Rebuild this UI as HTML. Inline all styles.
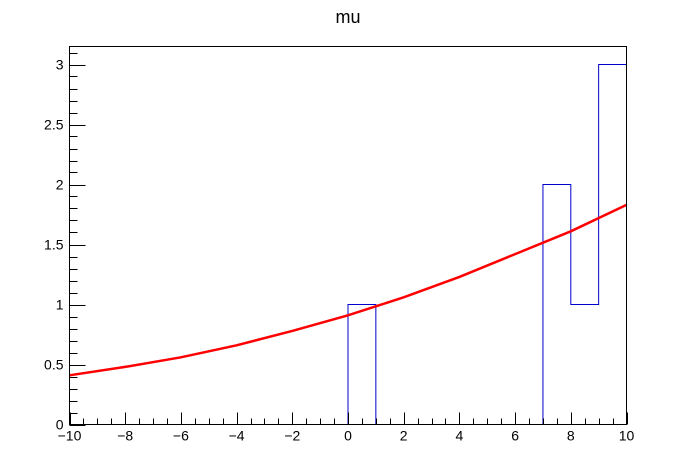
<!DOCTYPE html>
<html><head><meta charset="utf-8"><style>body{margin:0;background:#fff}svg{display:block}text{font-family:"Liberation Sans",sans-serif}</style></head>
<body>
<svg id="c" width="696" height="472">
<text x="348" y="23" text-anchor="middle" font-size="18">mu</text>
</svg>
<script>
const binEdges=[-10,-9,-8,-7,-6,-5,-4,-3,-2,-1,0,1,2,3,4,5,6,7,8,9,10];
const binCounts=[0,0,0,0,0,0,0,0,0,0,1,0,0,0,0,0,0,2,1,3];
const fitX=[-10,-8,-6,-4,-2,0,2,4,6,8,10];
const fitY=[0.41,0.48,0.56,0.66,0.78,0.91,1.06,1.23,1.42,1.61,1.83];
const xTicks=[-10,-8,-6,-4,-2,0,2,4,6,8,10];
const yTicks=[0,0.5,1,1.5,2,2.5,3];
const yTickLabels=["0","0.5","1","1.5","2","2.5","3"];
const L=69.5,R=626.5,T=46.5,B=424.5,xmin=-10,xmax=10,ymin=0,ymax=3.15;
const sx=v=>L+(v-xmin)/(xmax-xmin)*(R-L);
const sy=v=>B-(v-ymin)/(ymax-ymin)*(B-T);
const svg=document.getElementById('c');const NS='http://www.w3.org/2000/svg';
function mk(t,a,p){const e=document.createElementNS(NS,t);for(const k in a)e.setAttribute(k,a[k]);(p||svg).appendChild(e);return e;}
// histogram
let d='M'+sx(binEdges[0])+','+sy(0);
binCounts.forEach((c,i)=>{d+=' L'+sx(binEdges[i])+','+sy(c)+' L'+sx(binEdges[i+1])+','+sy(c);});
d+=' L'+sx(binEdges[binEdges.length-1])+','+sy(0);
const h=mk('path',{d:d,fill:'none',stroke:'#0000cc','stroke-width':1});


const fp=mk('polyline',{points:fitX.map((x,i)=>sx(x)+','+sy(fitY[i])).join(' '),fill:'none',stroke:'#ff0000','stroke-width':2.5});


const frame=mk('rect',{x:L,y:T,width:R-L,height:B-T,fill:'none',stroke:'#000','stroke-width':1});


const gx=mk('g',{stroke:'#000','stroke-width':1});


for(let v=xmin;v<=xmax+1e-9;v+=0.5){const maj=Math.abs(v/2-Math.round(v/2))<1e-9;const x=Math.round(sx(v))+0.5;mk('line',{x1:x,x2:x,y1:B,y2:B-(maj?12:6)},gx);}
xTicks.forEach(v=>{const t=mk('text',{x:sx(v),y:B+16,'text-anchor':'middle','font-size':14});t.textContent=v<0?'\u2212'+(-v):v;

});
const gy=mk('g',{stroke:'#000','stroke-width':1});


for(let i=0;i<=31;i++){const v=i*0.1;const maj=i%5===0;const y=Math.round(sy(v))+0.5;mk('line',{x1:L,x2:L+(maj?16:8),y1:y,y2:y},gy);}
yTicks.forEach((v,i)=>{const t=mk('text',{x:L-6,y:sy(v)+5,'text-anchor':'end','font-size':14});t.textContent=yTickLabels[i];

});
</script>
</body></html>
